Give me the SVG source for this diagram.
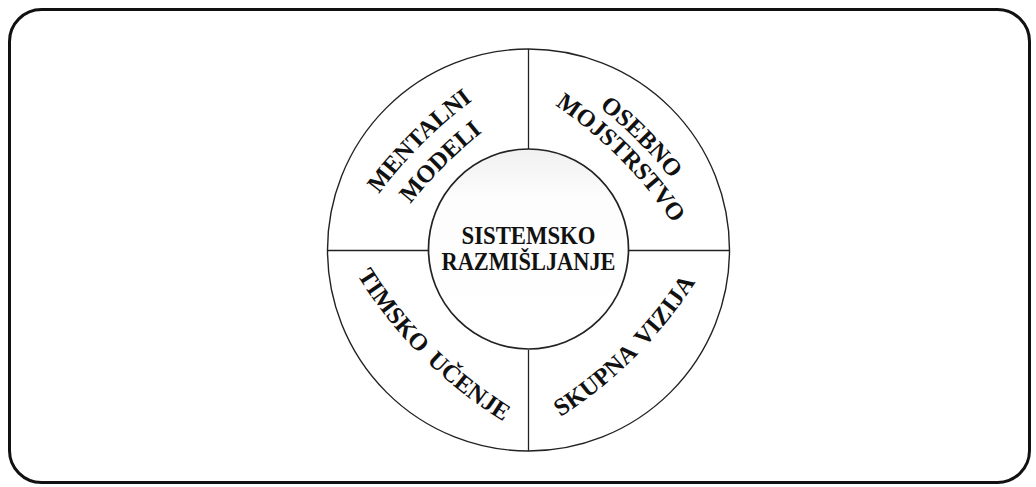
<svg xmlns="http://www.w3.org/2000/svg" width="1036" height="487" viewBox="0 0 1036 487">
  <style>
    .frame { fill: none; stroke: #111; stroke-width: 3; }
    .ring { fill: none; stroke: #222; stroke-width: 1.4; }
    .core { stroke: #222; stroke-width: 1.7; }
    .div { stroke: #222; stroke-width: 1.3; }
    .lbl { font-family: "Liberation Serif", "Times New Roman", serif; font-weight: bold; font-size: 24.5px; fill: #111; word-spacing: 4px; }
    .ctr { font-family: "Liberation Serif", "Times New Roman", serif; font-weight: bold; font-size: 25px; fill: #111; }
  </style>
  <defs>
    <path id="arcTop" d="M-130,19.2 A450,450 0 0 1 130,19.2"/>
    <path id="arcBot" d="M-130,-19.2 A450,450 0 0 0 130,-19.2"/>
    <linearGradient id="shade" x1="0" y1="0" x2="0" y2="1">
      <stop offset="0" stop-color="#f0f0f0"/>
      <stop offset="0.25" stop-color="#fdfdfd"/>
      <stop offset="1" stop-color="#ffffff"/>
    </linearGradient>
  </defs>
  <rect x="0" y="0" width="1036" height="487" fill="#fff"/>
  <rect id="frame" class="frame" x="9.5" y="9.5" width="1020" height="473" rx="32" ry="32"/>

  <g id="outer-ring">
    <circle class="ring" cx="528.5" cy="250" r="201"/>
  </g>

  <g id="dividers">
    <line class="div" x1="528.5" y1="49" x2="528.5" y2="150"/>
    <line class="div" x1="528.5" y1="350" x2="528.5" y2="451"/>
    <line class="div" x1="327.5" y1="250.5" x2="428.5" y2="250.5"/>
    <line class="div" x1="628.5" y1="250.5" x2="729.5" y2="250.5"/>
  </g>

  <g id="sistemsko-razmisljanje">
    <circle class="core" cx="528.5" cy="249" r="100" fill="url(#shade)"/>
    <text class="ctr" x="528.5" y="244" text-anchor="middle" textLength="134" lengthAdjust="spacingAndGlyphs">SISTEMSKO</text>
    <text class="ctr" x="528.5" y="269.5" text-anchor="middle" textLength="174" lengthAdjust="spacingAndGlyphs">RAZMIŠLJANJE</text>
  </g>

  <g id="mentalni-modeli">
    <text class="lbl" transform="translate(422.3,143.8) rotate(-45)"><textPath href="#arcTop" startOffset="50%" text-anchor="middle">MENTALNI</textPath></text>
    <text class="lbl" transform="translate(444.4,165.9) rotate(-45)"><textPath href="#arcTop" startOffset="50%" text-anchor="middle">MODELI</textPath></text>
  </g>

  <g id="osebno-mojstrstvo">
    <text class="lbl" transform="translate(637.4,141.1) rotate(45)"><textPath href="#arcTop" startOffset="50%" text-anchor="middle">OSEBNO</textPath></text>
    <text class="lbl" transform="translate(619.7,158.8) rotate(45)"><textPath href="#arcTop" startOffset="50%" text-anchor="middle">MOJSTRSTVO</textPath></text>
  </g>

  <g id="timsko-ucenje">
    <text class="lbl" transform="translate(421.7,356.8) rotate(45)"><textPath href="#arcBot" startOffset="50%" text-anchor="middle">TIMSKO UČENJE</textPath></text>
  </g>

  <g id="skupna-vizija">
    <text class="lbl" transform="translate(635.3,356.8) rotate(-45)"><textPath href="#arcBot" startOffset="50%" text-anchor="middle">SKUPNA VIZIJA</textPath></text>
  </g>
</svg>
